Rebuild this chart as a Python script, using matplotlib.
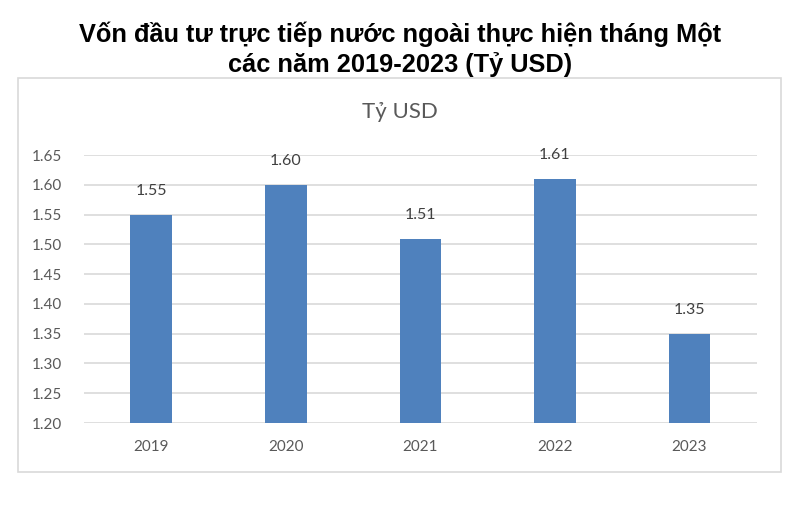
import matplotlib.pyplot as plt
from matplotlib.patches import Rectangle

years = ['2019', '2020', '2021', '2022', '2023']
values = [1.55, 1.60, 1.51, 1.61, 1.35]
yticks = [1.20, 1.25, 1.30, 1.35, 1.40, 1.45, 1.50, 1.55, 1.60, 1.65]

fig = plt.figure(figsize=(8, 5.17), dpi=100)
fig.patch.set_facecolor('white')

# chart frame
fig.patches.append(Rectangle((0.0225, 0.087), 0.954, 0.762, transform=fig.transFigure,
                             facecolor='none', edgecolor='#d9d9d9', linewidth=1.2, zorder=-1))

fig.text(0.5, 0.905, 'Vốn đầu tư trực tiếp nước ngoài thực hiện tháng Một\ncác năm 2019-2023 (Tỷ USD)',
         ha='center', va='center', fontsize=18.3, fontweight='bold', family='Liberation Sans',
         linespacing=1.22)
fig.text(0.5, 0.783, 'Tỷ USD', ha='center', va='center', fontsize=16, color='#595959', family='Lato')

ax = fig.add_axes([0.105, 0.1818, 0.841, 0.518])
ax.set_facecolor('none')
x = range(len(years))
bars = ax.bar(x, values, width=0.31, color='#4f81bd', zorder=3)
for xi, v in zip(x, values):
    ax.annotate(f'{v:.2f}', (xi, v), xytext=(0, 12), textcoords='offset points',
                ha='center', va='bottom', fontsize=11.5, color='#404040', family='Lato')

ax.set_xlim(-0.5, len(years) - 0.5)
ax.set_ylim(1.20, 1.65)
ax.set_yticks(yticks)
ax.set_yticklabels([f'{t:.2f}' for t in yticks])
ax.set_xticks(list(x))
ax.set_xticklabels(years)
ax.yaxis.grid(True, color='#d9d9d9', linewidth=1.2, zorder=0)
for s in ax.spines.values():
    s.set_visible(False)
ax.tick_params(axis='both', length=0, labelsize=11, labelcolor='#595959')
ax.tick_params(axis='y', pad=16)
ax.tick_params(axis='x', pad=12)
for lbl in ax.get_xticklabels() + ax.get_yticklabels():
    lbl.set_family('Lato')

fig.savefig('out.png', dpi=100)
